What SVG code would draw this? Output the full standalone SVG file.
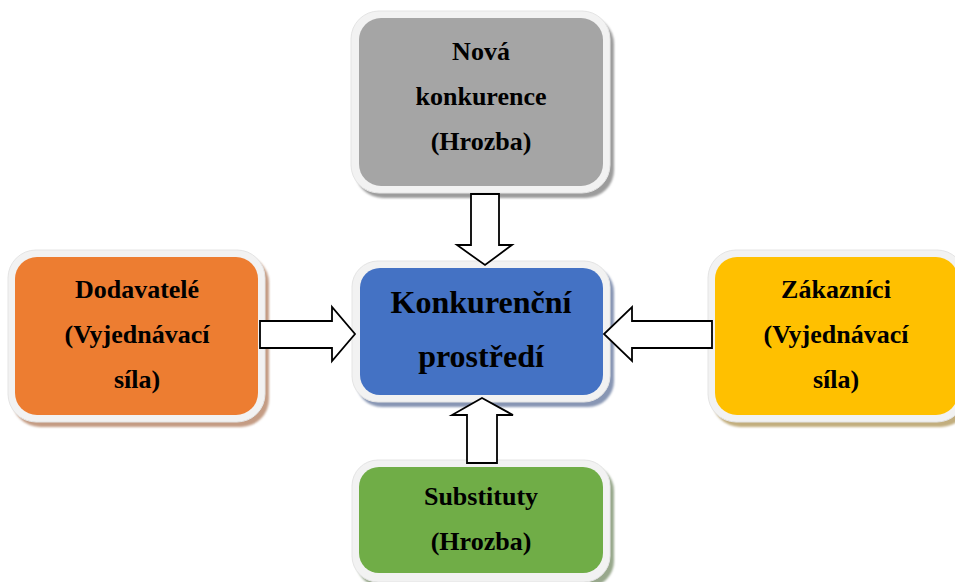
<svg xmlns="http://www.w3.org/2000/svg" width="955" height="582" viewBox="0 0 955 582">
  <defs>
    <filter id="soft" x="-5%" y="-5%" width="110%" height="110%">
      <feGaussianBlur stdDeviation="0.8"/>
    </filter>
  </defs>
  <style>
    .frame { fill: #f2f2f2; stroke: #e4e4e4; stroke-width: 1; }
    .label { font-family: "Liberation Serif", "Times New Roman", serif; font-weight: bold; font-size: 26px; fill: #000; text-anchor: middle; }
    .big { font-size: 32px; }
    .arrow { fill: #ffffff; stroke: #000000; stroke-width: 1.8; stroke-linejoin: miter; }
  </style>
  <rect width="955" height="582" fill="#ffffff"/>

  <!-- New competition (top) -->
  <g id="nova-konkurence">
    <rect x="355" y="16" width="259" height="182" rx="28" fill="#9c9c9c" filter="url(#soft)"/>
    <rect class="frame" x="351" y="11" width="259" height="182" rx="28"/>
    <rect x="359" y="18" width="244" height="168" rx="22" fill="#a5a5a5"/>
    <text class="label" x="481" y="60">Nová</text>
    <text class="label" x="481" y="105">konkurence</text>
    <text class="label" x="481" y="150">(Hrozba)</text>
  </g>

  <!-- Suppliers (left) -->
  <g id="dodavatele">
    <rect x="12" y="255" width="257" height="172" rx="28" fill="#c49c84" filter="url(#soft)"/>
    <rect class="frame" x="8" y="250" width="257" height="172" rx="28"/>
    <rect x="15" y="257" width="243" height="158" rx="22" fill="#ed7d31"/>
    <text class="label" x="137" y="298">Dodavatelé</text>
    <text class="label" x="137" y="343">(Vyjednávací</text>
    <text class="label" x="137" y="388">síla)</text>
  </g>

  <!-- Competitive environment (centre) -->
  <g id="konkurencni-prostredi">
    <rect x="356" y="266" width="258" height="141" rx="26" fill="#8896b4" filter="url(#soft)"/>
    <rect class="frame" x="352" y="261" width="258" height="141" rx="26"/>
    <rect x="360" y="268" width="243" height="127" rx="20" fill="#4472c4"/>
    <text class="label big" x="481" y="313">Konkurenční</text>
    <text class="label big" x="481" y="367">prostředí</text>
  </g>

  <!-- Customers (right) -->
  <g id="zakaznici">
    <rect x="712" y="255" width="257" height="172" rx="28" fill="#c2ae7e" filter="url(#soft)"/>
    <rect class="frame" x="708" y="250" width="257" height="172" rx="28"/>
    <rect x="715" y="257" width="243" height="158" rx="22" fill="#ffc000"/>
    <text class="label" x="836" y="298">Zákazníci</text>
    <text class="label" x="836" y="343">(Vyjednávací</text>
    <text class="label" x="836" y="388">síla)</text>
  </g>

  <!-- Substitutes (bottom) -->
  <g id="substituty">
    <rect x="356" y="465" width="258" height="122" rx="26" fill="#98a88c" filter="url(#soft)"/>
    <rect class="frame" x="352" y="460" width="258" height="122" rx="26"/>
    <rect x="359" y="467" width="244" height="106" rx="20" fill="#70ad47"/>
    <text class="label" x="481" y="505">Substituty</text>
    <text class="label" x="481" y="550">(Hrozba)</text>
  </g>

  <!-- Block arrows pointing into the centre -->
  <g id="connectors">
    <path class="arrow" d="M471,194 H499 V245 H512 L485,265 L457,245 H471 Z"/>
    <path class="arrow" d="M260,321 H332 V307 L355,334 L332,361 V348 H260 Z"/>
    <path class="arrow" d="M712,321 H632 V307 L604,334 L632,361 V348 H712 Z"/>
    <path class="arrow" d="M467,463 V415 H452 L482,398 L513,415 H497 V463 Z"/>
  </g>
</svg>
